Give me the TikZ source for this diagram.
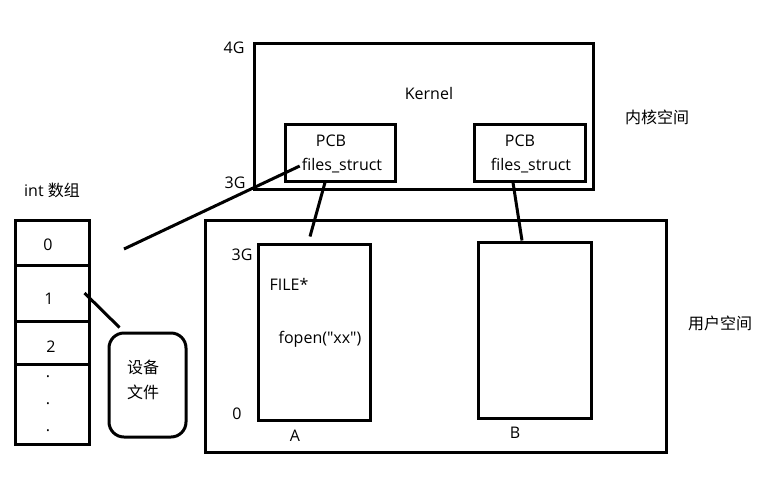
\documentclass[tikz,border=0pt]{standalone}
\usepackage{fontspec}
\setmainfont{Open Sans}[Ligatures=TeXOff]
\newfontfamily\cjk{Noto Sans CJK SC}
\usetikzlibrary{calc}

\begin{document}
\begin{tikzpicture}[
        x=1pt, y=-1pt,
        box/.style={draw,line width=3pt,inner sep=0pt},
        cell/.style={draw,line width=3pt,inner sep=0pt,minimum width=74pt},
        lbl/.style={inner sep=0pt,font=\fontsize{16}{19}\selectfont},
        linkEdge/.style={line width=3pt},
    ]
    \useasboundingbox (0,0) rectangle (773,477);

    %--- Kernel space ---%
    \node[box,minimum width=339pt,minimum height=146pt] (kernel) at (423.5,116) {};
    \node[lbl] (kernelLbl) at (429,93) {Kernel};
    \node[box,minimum width=110pt,minimum height=57pt] (pcbA) at (340,152.5) {};
    \node[lbl] (pcbTitleA) at (331,141) {PCB};
    \node[lbl] (fsA) at (342,166) {files\_struct};
    \node[box,minimum width=111pt,minimum height=57pt] (pcbB) at (529.5,152.5) {};
    \node[lbl] (pcbTitleB) at (520,141) {PCB};
    \node[lbl] (fsB) at (531,166) {files\_struct};
    \node[lbl] (g4) at (234,48) {4G};
    \node[lbl] (g3) at (235,183) {3G};
    \node[lbl] (kernelSpace) at (657,117) {\cjk 内核空间};

    %--- User space ---%
    \node[box,minimum width=461pt,minimum height=232pt] (user) at (435.5,336) {};
    \node[box,minimum width=112pt,minimum height=176pt] (procA) at (314,332) {};
    \node[box,minimum width=113pt,minimum height=176pt] (procB) at (534.5,330) {};
    \node[lbl] (topA) at (242,255) {3G};
    \node[lbl] (bottomA) at (237,414) {0};
    \node[lbl] (fileA) at (289,284) {FILE*};
    \node[lbl] (fopenA) at (320,339) {fopen("xx")};
    \node[lbl] (nameA) at (295,436) {A};
    \node[lbl] (nameB) at (515,433) {B};
    \node[lbl] (userSpace) at (720,323) {\cjk 用户空间};

    %--- fd array ---%
    \node[lbl] (arrLbl) at (52,190) {int {\cjk 数组}};
    \node[cell,minimum height=45pt] (c0) at (52,242.5) {};
    \node[cell,minimum height=56pt] (c1) at (52,293) {};
    \node[cell,minimum height=43pt] (c2) at (52,342.5) {};
    \node[cell,minimum height=80pt] (c3) at (52,404) {};
    \node[lbl] (n0) at (48,245) {0};
    \node[lbl] (n1) at (49,299) {1};
    \node[lbl] (n2) at (51,347) {2};
    \node[lbl,align=center,font=\fontsize{16}{27}\selectfont] (dots) at (48,404) {.\\.\\.};

    %--- Device file ---%
    \node[box,rounded corners=15pt,minimum width=77pt,minimum height=104pt] (dev) at (147.5,385) {};
    \node[lbl,align=center,font=\fontsize{16}{25}\selectfont\cjk] (devLbl) at (143,380) {设备\\文件};

    %--- Links ---%
    \coordinate (fdZero) at (124,249);
    \draw[linkEdge] ([xshift=-2pt]fsA.west) -- (fdZero);
    \draw[linkEdge] ([xshift=-15pt]pcbA.south) -- ([xshift=-4pt,yshift=6pt]procA.north);
    \draw[linkEdge] ([xshift=-16.5pt]pcbB.south) -- ([xshift=-12.5pt]procB.north);
    \draw[linkEdge] ([xshift=-6pt]c1.east) -- ([xshift=12pt,yshift=4pt]dev.north west);

\end{tikzpicture}
\end{document}
